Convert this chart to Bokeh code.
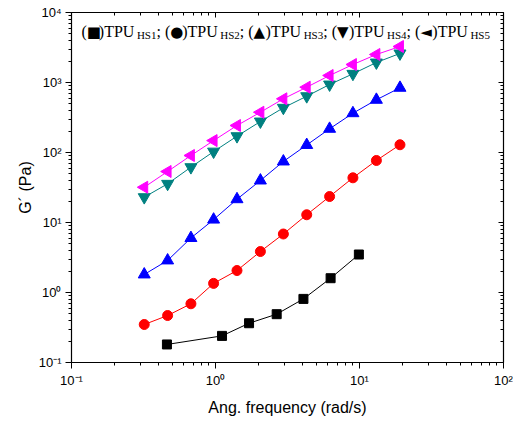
import math
from bokeh.plotting import figure
from bokeh.models import FixedTicker, LogAxis, Label, Range1d
from bokeh.embed import file_html
from bokeh.resources import INLINE

# ---- data ----
freq = [0.32, 0.465, 0.675, 0.97, 1.41, 2.05, 2.96, 4.3, 6.2, 9.0, 13.1, 19.1]
freq_hs1 = [0.46, 1.11, 1.71, 2.66, 4.08, 6.3, 9.9]
g_hs1 = [0.181, 0.24, 0.364, 0.49, 0.81, 1.6, 3.49]
g_hs2 = [0.349, 0.469, 0.69, 1.35, 2.06, 3.85, 6.85, 12.9, 23.5, 43.5, 76.9, 129]
g_hs3 = [1.81, 2.87, 6.0, 11.0, 21.5, 39.8, 74.4, 128, 218, 364, 566, 840]
g_hs4 = [23, 35.7, 61.7, 103, 171, 277, 435, 637, 936, 1330, 1930, 2600]
g_hs5 = [31.9, 53.5, 90.6, 148, 243, 376, 585, 857, 1259, 1807, 2512, 3268]

series_names = ["HS1", "HS2", "HS3", "HS4", "HS5"]
series_shapes = ["\u25A0", "\u25CF", "\u25B2", "\u25BC", "\u25C4"]

x_major = [0.1, 1, 10, 100]
x_labels = ["10\u207B\u00B9", "10\u2070", "10\u00B9", "10\u00B2"]
y_major = [0.1, 1, 10, 100, 1000, 10000]
y_labels = ["10\u207B\u00B9", "10\u2070", "10\u00B9", "10\u00B2", "10\u00B3", "10\u2074"]


def minors(majors):
    out = []
    for m in majors[:-1]:
        out += [m * k for k in range(2, 10)]
    return out


p = figure(width=513, height=423, x_axis_type="log", y_axis_type="log",
           x_range=Range1d(0.1, 100), y_range=Range1d(0.1, 10000),
           output_backend="svg", toolbar_location=None,
           min_border_left=71, min_border_right=10, min_border_top=12, min_border_bottom=61)
p.xgrid.visible = False
p.ygrid.visible = False
p.outline_line_color = "black"
p.outline_line_width = 1
p.background_fill_color = "white"
p.border_fill_color = "white"

xt = FixedTicker(ticks=x_major, minor_ticks=minors(x_major))
yt = FixedTicker(ticks=y_major, minor_ticks=minors(y_major))

for ax, t, labs in ((p.xaxis[0], xt, x_labels), (p.yaxis[0], yt, y_labels)):
    ax.ticker = t
    ax.major_label_overrides = {v: s for v, s in zip(t.ticks, labs)}
    ax.major_tick_out = 6
    ax.major_tick_in = 0
    ax.minor_tick_out = 3
    ax.minor_tick_in = 0
    ax.axis_line_width = 1.2
    ax.major_label_text_font = "Liberation Sans"
    ax.major_label_text_font_size = "13px"
    ax.major_label_text_color = "black"
    ax.axis_label_text_font = "Liberation Sans"
    ax.axis_label_text_font_size = "16px"
    ax.axis_label_text_font_style = "normal"
    ax.axis_label_text_color = "black"

p.xaxis[0].axis_label = "Ang. frequency (rad/s)"
p.xaxis[0].major_label_standoff = 4
p.xaxis[0].axis_label_standoff = 8
p.yaxis[0].axis_label = "G\u00B4 (Pa)"
p.yaxis[0].major_label_standoff = 4
p.yaxis[0].axis_label_standoff = 2

for loc, t in (("above", xt), ("right", yt)):
    a = LogAxis(ticker=t)
    a.major_label_text_font_size = "1px"
    a.major_label_text_alpha = 0
    a.major_label_standoff = 0
    a.major_tick_in = 5
    a.major_tick_out = 0
    a.minor_tick_in = 3
    a.minor_tick_out = 0
    a.axis_line_width = 1.2
    p.add_layout(a, loc)

# ---- series ----
p.line(freq_hs1, g_hs1, color="black", line_width=1)
p.scatter(freq_hs1, g_hs1, marker="square", size=9, color="black")

p.line(freq, g_hs2, color="red", line_width=1)
p.scatter(freq, g_hs2, marker="circle", size=10, color="red")

p.line(freq, g_hs3, color="blue", line_width=1)
p.scatter(freq, g_hs3, marker="triangle", size=12, color="blue")

p.line(freq, g_hs4, color="#008080", line_width=1)
p.scatter(freq, g_hs4, marker="inverted_triangle", size=12, color="#008080")

p.line(freq, g_hs5, color="#FF00FF", line_width=1)
p.scatter(freq, g_hs5, marker="triangle", angle=math.pi / 2, size=12, color="#FF00FF")

# ---- legend text line (Times-like, with subscripts) ----
main_size = 16
sub_size = 11
w_main = {"(": 0.333, ")": 0.333, "T": 0.611, "P": 0.556, "U": 0.722, ";": 0.278, " ": 0.25}
w_sub = {"H": 0.722, "S": 0.556, "1": 0.5, "2": 0.5, "3": 0.5, "4": 0.5, "5": 0.5}
shape_w = 0.8

x = 10.0
base_y = 331
for i, (name, shape) in enumerate(zip(series_names, series_shapes)):
    for txt, font, size in (("(", "Liberation Serif", main_size),
                            (shape, "DejaVu Sans", 15),
                            (")TPU", "Liberation Serif", main_size)):
        p.add_layout(Label(x=x, y=base_y, x_units="screen", y_units="screen", text=txt,
                           text_font=font, text_font_size=f"{size}px", text_color="black",
                           text_baseline="alphabetic"))
        if txt == shape:
            x += shape_w * size
        else:
            x += sum(w_main[c] for c in txt) * size
    x += 2.5
    p.add_layout(Label(x=x, y=base_y - 3, x_units="screen", y_units="screen", text=name,
                       text_font="Liberation Serif", text_font_size=f"{sub_size}px",
                       text_color="black", text_baseline="alphabetic"))
    x += sum(w_sub[c] for c in name) * sub_size
    if i < 4:
        p.add_layout(Label(x=x, y=base_y, x_units="screen", y_units="screen", text=";",
                           text_font="Liberation Serif", text_font_size=f"{main_size}px",
                           text_color="black", text_baseline="alphabetic"))
        x += (0.278 + 0.25) * main_size

open("out.html", "w").write(file_html(p, INLINE))
